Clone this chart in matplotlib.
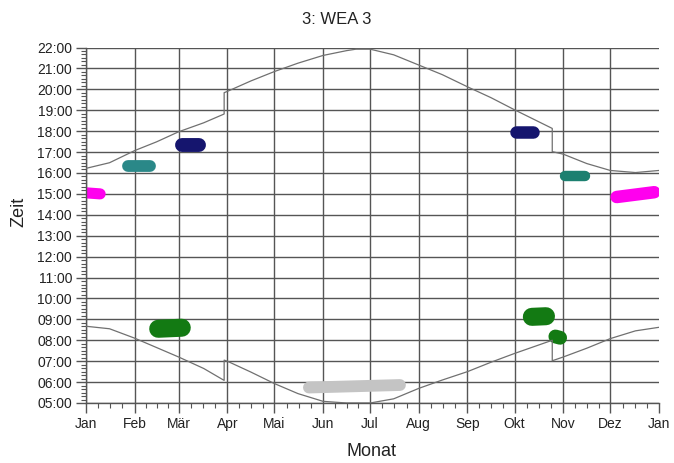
import matplotlib
matplotlib.use("Agg")
import matplotlib.pyplot as plt
from matplotlib.ticker import FixedLocator, MultipleLocator, FuncFormatter

plt.rcParams['font.family'] = ['Liberation Sans', 'DejaVu Sans']

# month starts as day of year
month_start = [0, 31, 59, 90, 120, 151, 181, 212, 243, 273, 304, 334, 365]
month_labels = ['Jan', 'Feb', 'Mär', 'Apr', 'Mai', 'Jun', 'Jul', 'Aug', 'Sep', 'Okt', 'Nov', 'Dez', 'Jan']

# sunset (upper curve), local time incl. summer time jumps
sunset_day = [0, 15, 31, 45, 59, 75, 88, 88, 90, 105, 120, 135, 151, 166, 172, 181,
              196, 212, 227, 243, 258, 273, 297, 297, 304, 319, 334, 350, 365]
sunset_hour = [16.22, 16.49, 17.07, 17.49, 17.97, 18.4, 18.82, 19.84, 19.9, 20.4, 20.85, 21.25, 21.62, 21.85, 21.92, 21.92,
               21.65, 21.16, 20.7, 20.12, 19.6, 19.02, 18.13, 17.02, 16.9, 16.45, 16.12, 16.02, 16.12]

# sunrise (lower curve)
sunrise_day = [0, 15, 31, 45, 59, 75, 88, 88, 90, 105, 120, 135, 151, 166, 181,
               196, 212, 227, 243, 258, 273, 297, 297, 304, 319, 334, 350, 365]
sunrise_hour = [8.67, 8.55, 8.1, 7.65, 7.2, 6.65, 6.08, 7.05, 7.0, 6.48, 5.93, 5.45, 5.08, 5.0, 5.0,
                5.2, 5.7, 6.1, 6.5, 6.95, 7.37, 8.0, 7.02, 7.2, 7.62, 8.08, 8.45, 8.62]

# shadow flicker periods (day from/to, hour from/to)
shadow_day_from = [0, 27, 61, 46, 142, 274, 284, 299, 305, 338]
shadow_day_to = [9, 41, 72, 61, 200, 285, 293, 302, 318, 362]
shadow_hour_from = [15.05, 16.33, 17.36, 8.55, 5.74, 17.98, 9.12, 8.18, 15.85, 14.85]
shadow_hour_to = [15.0, 16.33, 17.36, 8.6, 5.86, 17.98, 9.15, 8.12, 15.85, 15.08]

fig = plt.figure(figsize=(6.74, 4.63), dpi=100)
ax = fig.add_axes([86 / 674, 1 - 403 / 463, 573 / 674, 355.5 / 463])

grid_col = '#555555'
ax.plot(sunset_day, sunset_hour, color='#707070', lw=0.9, zorder=3)
ax.plot(sunrise_day, sunrise_hour, color='#707070', lw=0.9, zorder=3)

blob_colors = ['#ff00ee', '#2a8888', '#15156e', '#137a13', '#c4c4c4',
               '#15156e', '#137a13', '#137a13', '#1c8070', '#ff00ee']
blob_widths = [8, 8.5, 10, 13, 8.5, 9, 13, 10, 7.5, 9]
for d0, d1, h0, h1, c, w in zip(shadow_day_from, shadow_day_to, shadow_hour_from,
                                shadow_hour_to, blob_colors, blob_widths):
    ax.plot([d0, d1], [h0, h1], color=c, lw=w, solid_capstyle='round', zorder=2)

ax.set_xlim(0, 365)
ax.set_ylim(5, 22)

ax.xaxis.set_major_locator(FixedLocator(month_start))
ax.set_xticklabels(month_labels)
minor_x = []
for a, b in zip(month_start[:-1], month_start[1:]):
    minor_x += [a + (b - a) * k / 4 for k in (1, 2, 3)]
ax.xaxis.set_minor_locator(FixedLocator(minor_x))

ax.yaxis.set_major_locator(MultipleLocator(1))
ax.yaxis.set_minor_locator(MultipleLocator(1 / 6))
ax.yaxis.set_major_formatter(FuncFormatter(lambda v, p: f"{int(round(v)):02d}:00"))

ax.tick_params(which='major', length=7, width=1, color=grid_col, labelsize=10, pad=3, labelcolor='#222222')
ax.tick_params(which='minor', length=3.5, width=0.8, color=grid_col)

ax.grid(which='major', color=grid_col, lw=1.0, zorder=1)
ax.set_axisbelow(True)
xgl = ax.xaxis.get_gridlines()
xgl[-1].set_visible(False)

for s in ['top', 'right']:
    ax.spines[s].set_visible(False)
for s in ['left', 'bottom']:
    ax.spines[s].set_color(grid_col)
    ax.spines[s].set_linewidth(1.0)

fig.text(0.5, 0.957, '3: WEA 3', ha='center', va='center', fontsize=12, color='#222222')
fig.text(0.028, 0.542, 'Zeit', rotation=90, ha='center', va='center', fontsize=13, color='#222222')
fig.text(372 / 674, 1 - 452 / 463, 'Monat', ha='center', va='center', fontsize=13, color='#222222')

fig.savefig('out.png', dpi=100)
